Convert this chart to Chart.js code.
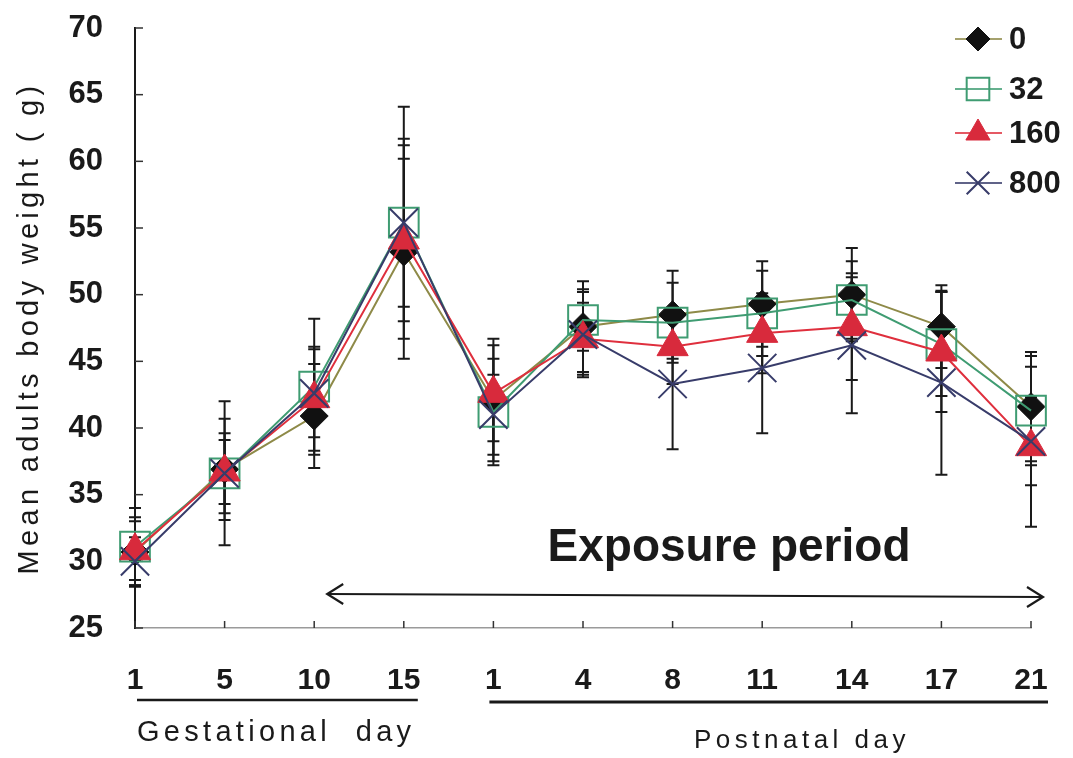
<!DOCTYPE html>
<html><head><meta charset="utf-8">
<script src="https://cdn.jsdelivr.net/npm/chart.js@4/dist/chart.umd.min.js"></script>
<style>html,body{margin:0;padding:0;background:#fff;} #wrap{width:1073px;height:758px;position:relative;}</style>
</head><body><div id="wrap"><canvas id="c"></canvas></div>
<script>
// ---- data ----
const dayLabels = ['1','5','10','15','1','4','8','11','14','17','21'];
const seriesNames = ['0','32','160','800'];
const mean0   = [30.7,36.9,40.9,53.2,42.1,47.6,48.5,49.3,50.0,47.6,41.6];
const mean32  = [31.1,36.6,43.1,55.4,41.2,48.1,47.9,48.6,49.6,46.3,41.3];
const mean160 = [30.8,36.7,42.2,54.1,42.6,46.7,46.1,47.1,47.6,45.7,38.6];
const mean800 = [30.0,36.6,42.6,55.4,41.0,47.0,43.3,44.5,46.2,43.4,39.0];
const sd0   = [2.6,3.8,3.9,8.0,4.6,3.4,3.3,3.2,3.5,3.1,4.1];
const sd32  = [2.9,5.4,5.1,8.7,4.0,2.3,3.0,3.2,2.9,3.9,4.1];
const sd160 = [2.2,2.4,3.9,6.1,3.6,2.7,2.8,3.0,4.0,4.5,6.0];
const sd800 = [1.8,3.0,3.3,6.3,3.0,3.2,4.9,4.9,5.1,6.9,3.3];
const yMin = 25, yMax = 70, yStep = 5;
const yTitle = 'Mean adults body weight ( g)';
const gestLabel = 'Gestational  day';
const postLabel = 'Postnatal day';
const exposureLabel = 'Exposure period';
const gestRange = [0, 3];   // category indices
const postRange = [4, 10];
const exposureRange = [2, 10];

const sdList = [sd0, sd32, sd160, sd800];
const FONT = '"Liberation Sans", Arial, sans-serif';

const styles = [
  {line:'#8e8a48', pt:'rectRot', r:14, fill:'#111111', border:'#111111', bw:1, lr:12},
  {line:'#3f9c72', pt:'rect', r:21, fill:'rgba(255,255,255,0)', border:'#3f9c72', bw:2, lr:16},
  {line:'#df2f3d', pt:'triangle', r:18, fill:'#d82a3c', border:'#d82a3c', bw:1, lr:14},
  {line:'#383c6a', pt:'crossRot', r:20, fill:'#383c6a', border:'#383c6a', bw:2, lr:16}
];
const means = [mean0, mean32, mean160, mean800];
const drawOrder = [3, 2, 1, 0];

const datasets = means.map((m, i) => ({
  label: seriesNames[i],
  data: m,
  borderColor: styles[i].line,
  borderWidth: 2,
  pointStyle: styles[i].pt,
  pointRadius: styles[i].r,
  pointBackgroundColor: styles[i].fill,
  pointBorderColor: styles[i].border,
  pointBorderWidth: styles[i].bw,
  pointHoverRadius: styles[i].r,
  tension: 0,
  fill: false,
  clip: false,
  order: drawOrder[i]
}));

const errorBars = {
  id: 'errorBars',
  beforeDatasetsDraw(chart) {
    const {ctx, scales: {x, y}} = chart;
    ctx.save();
    ctx.strokeStyle = '#1a1a1a';
    ctx.lineWidth = 2;
    chart.data.datasets.forEach((ds, di) => {
      ds.data.forEach((v, i) => {
        const sd = sdList[di][i];
        const px = x.getPixelForValue(i);
        const yt = y.getPixelForValue(v + sd), yb = y.getPixelForValue(v - sd);
        ctx.beginPath();
        ctx.moveTo(px, yt); ctx.lineTo(px, yb);
        ctx.moveTo(px - 6, yt); ctx.lineTo(px + 6, yt);
        ctx.moveTo(px - 6, yb); ctx.lineTo(px + 6, yb);
        ctx.stroke();
      });
    });
    ctx.restore();
  }
};

const innerTicks = {
  id: 'innerTicks',
  beforeDatasetsDraw(chart) {
    const {ctx, scales: {x, y}, chartArea} = chart;
    ctx.save();
    ctx.strokeStyle = '#333';
    ctx.lineWidth = 1.5;
    y.ticks.forEach((t, i) => {
      const py = y.getPixelForTick(i);
      ctx.beginPath(); ctx.moveTo(chartArea.left, py); ctx.lineTo(chartArea.left + 8, py); ctx.stroke();
    });
    x.ticks.forEach((t, i) => {
      const px = x.getPixelForTick(i);
      ctx.beginPath(); ctx.moveTo(px, chartArea.bottom); ctx.lineTo(px, chartArea.bottom - 7); ctx.stroke();
    });
    ctx.restore();
  }
};

const annotations = {
  id: 'annotations',
  afterDraw(chart) {
    const {ctx, scales: {x, y}, chartArea} = chart;
    ctx.save();
    ctx.fillStyle = '#1a1a1a';
    ctx.strokeStyle = '#1a1a1a';
    // y title
    ctx.save();
    ctx.translate(30, (chartArea.top + chartArea.bottom) / 2);
    ctx.rotate(-Math.PI / 2);
    ctx.font = '29px ' + FONT;
    ctx.letterSpacing = '4.3px';
    ctx.textAlign = 'center';
    ctx.textBaseline = 'middle';
    ctx.fillText(yTitle, 0, 0);
    ctx.restore();

    // group underlines
    const gx0 = x.getPixelForValue(gestRange[0]) + 2, gx1 = x.getPixelForValue(gestRange[1]) + 14;
    const px0 = x.getPixelForValue(postRange[0]) - 4, px1 = x.getPixelForValue(postRange[1]) + 17;
    ctx.lineWidth = 2.5;
    ctx.beginPath(); ctx.moveTo(gx0, 700); ctx.lineTo(gx1, 700); ctx.stroke();
    ctx.lineWidth = 3;
    ctx.beginPath(); ctx.moveTo(px0, 702); ctx.lineTo(px1, 702); ctx.stroke();

    ctx.font = '29px ' + FONT;
    ctx.letterSpacing = '4.3px';
    ctx.textAlign = 'left';
    ctx.textBaseline = 'alphabetic';
    ctx.fillText(gestLabel, gx0, 741);
    ctx.font = '26px ' + FONT;
    ctx.letterSpacing = '4.5px';
    ctx.textAlign = 'center';
    ctx.fillText(postLabel, 802, 748);
    ctx.letterSpacing = '0px';

    // exposure arrow
    const ax0 = x.getPixelForValue(exposureRange[0]) + 13, ax1 = x.getPixelForValue(exposureRange[1]) + 12;
    const ay0 = 594, ay1 = 597;
    ctx.lineWidth = 2.2;
    ctx.beginPath(); ctx.moveTo(ax0, ay0); ctx.lineTo(ax1, ay1); ctx.stroke();
    ctx.beginPath(); ctx.moveTo(ax0 + 16, ay0 - 10); ctx.lineTo(ax0, ay0); ctx.lineTo(ax0 + 16, ay0 + 10); ctx.stroke();
    ctx.beginPath(); ctx.moveTo(ax1 - 16, ay1 - 10); ctx.lineTo(ax1, ay1); ctx.lineTo(ax1 - 16, ay1 + 10); ctx.stroke();
    ctx.font = 'bold 46px ' + FONT;
    ctx.textAlign = 'center';
    ctx.fillText(exposureLabel, 729, 561);

    // legend
    const rows = [39, 89, 133, 183];
    const mx = 978;
    chart.data.datasets.forEach((ds, i) => {
      const st = styles[i];
      const ry = rows[i];
      ctx.save();
      ctx.strokeStyle = st.line;
      ctx.lineWidth = 2;
      ctx.globalAlpha = 0.8;
      ctx.beginPath(); ctx.moveTo(955, ry); ctx.lineTo(1002, ry); ctx.stroke();
      ctx.restore();
      ctx.save();
      ctx.fillStyle = st.fill; ctx.strokeStyle = st.border; ctx.lineWidth = st.bw;
      Chart.helpers.drawPoint(ctx, {pointStyle: st.pt, radius: st.lr, borderWidth: st.bw}, mx, ry);
      ctx.restore();
      ctx.font = 'bold 31px ' + FONT;
      ctx.textAlign = 'left';
      ctx.textBaseline = 'middle';
      ctx.fillStyle = '#1a1a1a';
      ctx.fillText(ds.label, 1009, ry + 1);
    });
    ctx.restore();
  }
};

new Chart(document.getElementById('c'), {
  type: 'line',
  data: {labels: dayLabels, datasets},
  options: {
    responsive: true,
    maintainAspectRatio: false,
    animation: false,
    events: [],
    layout: {padding: {left: 0, top: 28, right: 42, bottom: 0}},
    plugins: {legend: {display: false}, tooltip: {enabled: false}, title: {display: false}},
    scales: {
      x: {
        type: 'category',
        offset: false,
        grid: {display: false, drawTicks: false},
        border: {display: true, color: '#9a9a9a', width: 1.5},
        ticks: {
          autoSkip: false, maxRotation: 0, padding: 35, color: '#1a1a1a',
          font: {family: FONT, size: 30, weight: 'bold'}
        },
        afterFit(s) { s.height = 130; s.paddingLeft = 0; s.paddingRight = 0; }
      },
      y: {
        min: yMin, max: yMax,
        grid: {display: false, drawTicks: false},
        border: {display: true, color: '#1a1a1a', width: 2},
        ticks: {
          stepSize: yStep, padding: 32, color: '#1a1a1a',
          font: {family: FONT, size: 31, weight: 'bold'}
        },
        afterFit(s) { s.width = 135; s.paddingTop = 0; s.paddingBottom = 0; }
      }
    }
  },
  plugins: [errorBars, innerTicks, annotations]
});
</script>
</body></html>
